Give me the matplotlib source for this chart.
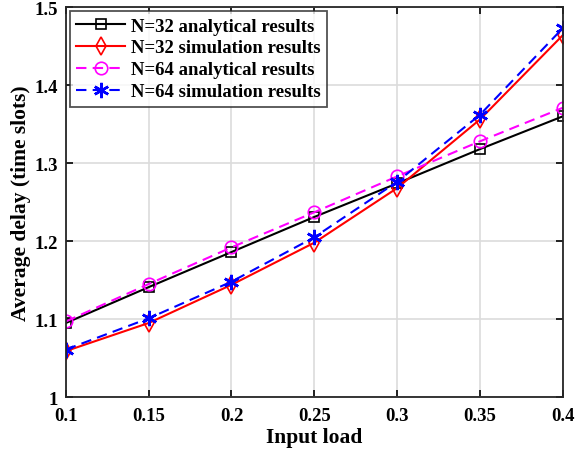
import matplotlib
matplotlib.use('Agg')
import matplotlib.pyplot as plt

plt.rcParams['font.family'] = ['Liberation Serif', 'DejaVu Serif']
plt.rcParams['font.weight'] = 'bold'

loads = [0.1, 0.15, 0.2, 0.25, 0.3, 0.35, 0.4]
n32Analytical = [1.095, 1.141, 1.186, 1.231, 1.274, 1.318, 1.360]
n32Simulation = [1.059, 1.095, 1.144, 1.198, 1.268, 1.356, 1.464]
n64Analytical = [1.097, 1.145, 1.192, 1.237, 1.283, 1.328, 1.371]
n64Simulation = [1.061, 1.101, 1.148, 1.205, 1.276, 1.362, 1.473]

xTicks = [0.1, 0.15, 0.2, 0.25, 0.3, 0.35, 0.4]
xTickLabels = ['0.1', '0.15', '0.2', '0.25', '0.3', '0.35', '0.4']
yTicks = [1, 1.1, 1.2, 1.3, 1.4, 1.5]
yTickLabels = ['1', '1.1', '1.2', '1.3', '1.4', '1.5']

fig = plt.figure(figsize=(5.88, 4.56), dpi=100)
ax = fig.add_axes([0.112, 0.127, 0.845, 0.855])

ax.plot(loads, n32Analytical, '-', color='black', marker='s', markersize=7,
        markerfacecolor='none', markeredgewidth=1.2, linewidth=1.5,
        label='N=32 analytical results')
ax.plot(loads, n32Simulation, '-', color='red', marker='d', markersize=9,
        markerfacecolor='none', markeredgewidth=1.2, linewidth=1.5,
        label='N=32 simulation results')
ax.plot(loads, n64Analytical, '--', color='magenta', marker='o', markersize=9,
        markerfacecolor='none', markeredgewidth=1.2, linewidth=1.5,
        dashes=(5, 3), label='N=64 analytical results')
ax.plot(loads, n64Simulation, '--', color='blue', marker=(6, 2, 0), markersize=11,
        markeredgewidth=1.8, linewidth=1.5, dashes=(5, 3),
        label='N=64 simulation results')

ax.set_xlim(0.1, 0.4)
ax.set_ylim(1, 1.5)
ax.set_xticks(xTicks)
ax.set_xticklabels(xTickLabels)
ax.set_yticks(yTicks)
ax.set_yticklabels(yTickLabels)
ax.tick_params(direction='in', labelsize=13.5, length=5, width=1.2, top=True, right=True)
ax.tick_params(axis='x', pad=7)
ax.tick_params(axis='y', pad=6)
ax.grid(True, color='#dcdcdc', linewidth=1.2)
ax.set_axisbelow(True)
for s in ax.spines.values():
    s.set_linewidth(1.3)
    s.set_color('#262626')

ax.set_xlabel('Input load', fontsize=15.5, fontweight='bold', labelpad=2)
ax.set_ylabel('Average delay (time slots)', fontsize=15.5, fontweight='bold', labelpad=2)

leg = ax.legend(loc='upper left', fontsize=13.5, frameon=True, fancybox=False,
                edgecolor='#262626', borderaxespad=0.2, handlelength=2.6,
                borderpad=0.35, labelspacing=0.25, handletextpad=0.3)
leg.get_frame().set_linewidth(1.3)

fig.savefig('out.png', dpi=100)
